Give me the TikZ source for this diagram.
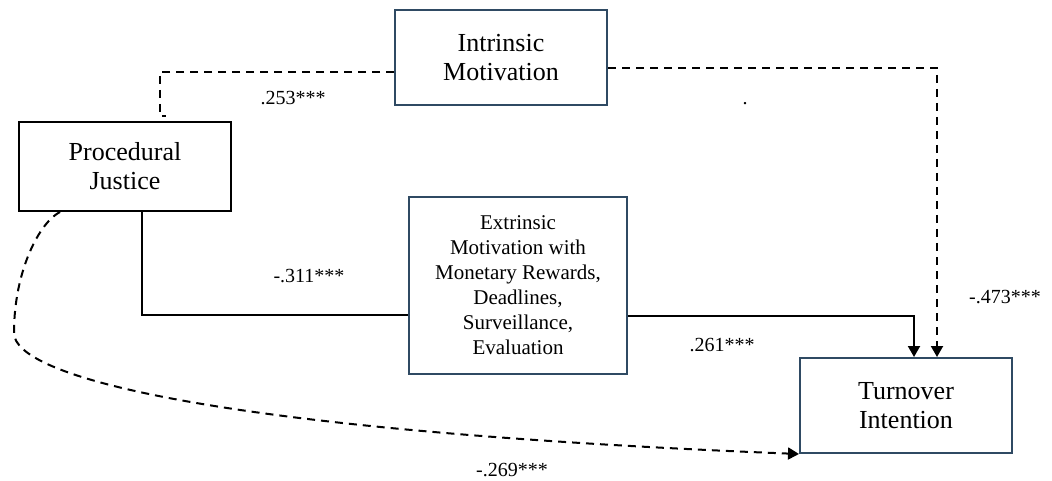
\documentclass[tikz,border=0pt]{standalone}
\usepackage{fontspec}
\setmainfont{Liberation Serif}
\usetikzlibrary{positioning,arrows.meta}
\definecolor{boxblue}{RGB}{47,74,99}

\begin{document}
\begin{tikzpicture}[x=1pt, y=-1pt,
  box/.style={rectangle, draw=boxblue, line width=2pt, align=center, minimum width=212pt, minimum height=95pt, font=\fontsize{26}{29}\selectfont},
  link/.style={line width=2pt},
  dline/.style={link, dash pattern=on 8pt off 6pt},
  tip/.style={-{Triangle[width=12pt,length=11pt]}},
  coef/.style={font=\fontsize{20}{24}\selectfont}]
  \useasboundingbox (0,0) rectangle (1052,481);
  \node (im) at (501,57.5) [box] {Intrinsic\\Motivation};
  \node (pj) at (125,166.5) [box, draw=black, minimum height=89pt] {Procedural\\Justice};
  \node (em) at (518,285.5) [box, minimum width=218pt, minimum height=177pt, font=\fontsize{21}{25}\selectfont] {Extrinsic\\Motivation with\\Monetary Rewards,\\Deadlines,\\Surveillance,\\Evaluation};
  \node (ti) at (906,405.5) [box] {Turnover\\Intention};
  \draw[dline] ([yshift=-14.5pt]im.west) -| ([xshift=35pt,yshift=5pt]pj.north) -- ++(6,0);
  \draw[dline, tip] ([yshift=-10.5pt]im.east) -| ([xshift=31pt]ti.north);
  \draw[link] ([xshift=17pt]pj.south) |- ([yshift=-29.5pt]em.west);
  \draw[link, tip] ([yshift=-30.5pt]em.east) -| ([xshift=8pt]ti.north);
  \draw[dline, tip] ([xshift=-65pt]pj.south) .. controls (40,222) and (14,270) .. (14,333) .. controls (14,375) and (200,430) .. (ti.south west);
  \node (c1) at (293,98) [coef] {.253***};
  \node (c2) at (309,276) [coef] {-.311***};
  \node (c3) at (722,345) [coef] {.261***};
  \node (c4) at (1005,297) [coef] {-.473***};
  \node (c5) at (512,470) [coef] {-.269***};
  \node (dot) at (745,104) [coef] {.};
\end{tikzpicture}
\end{document}
